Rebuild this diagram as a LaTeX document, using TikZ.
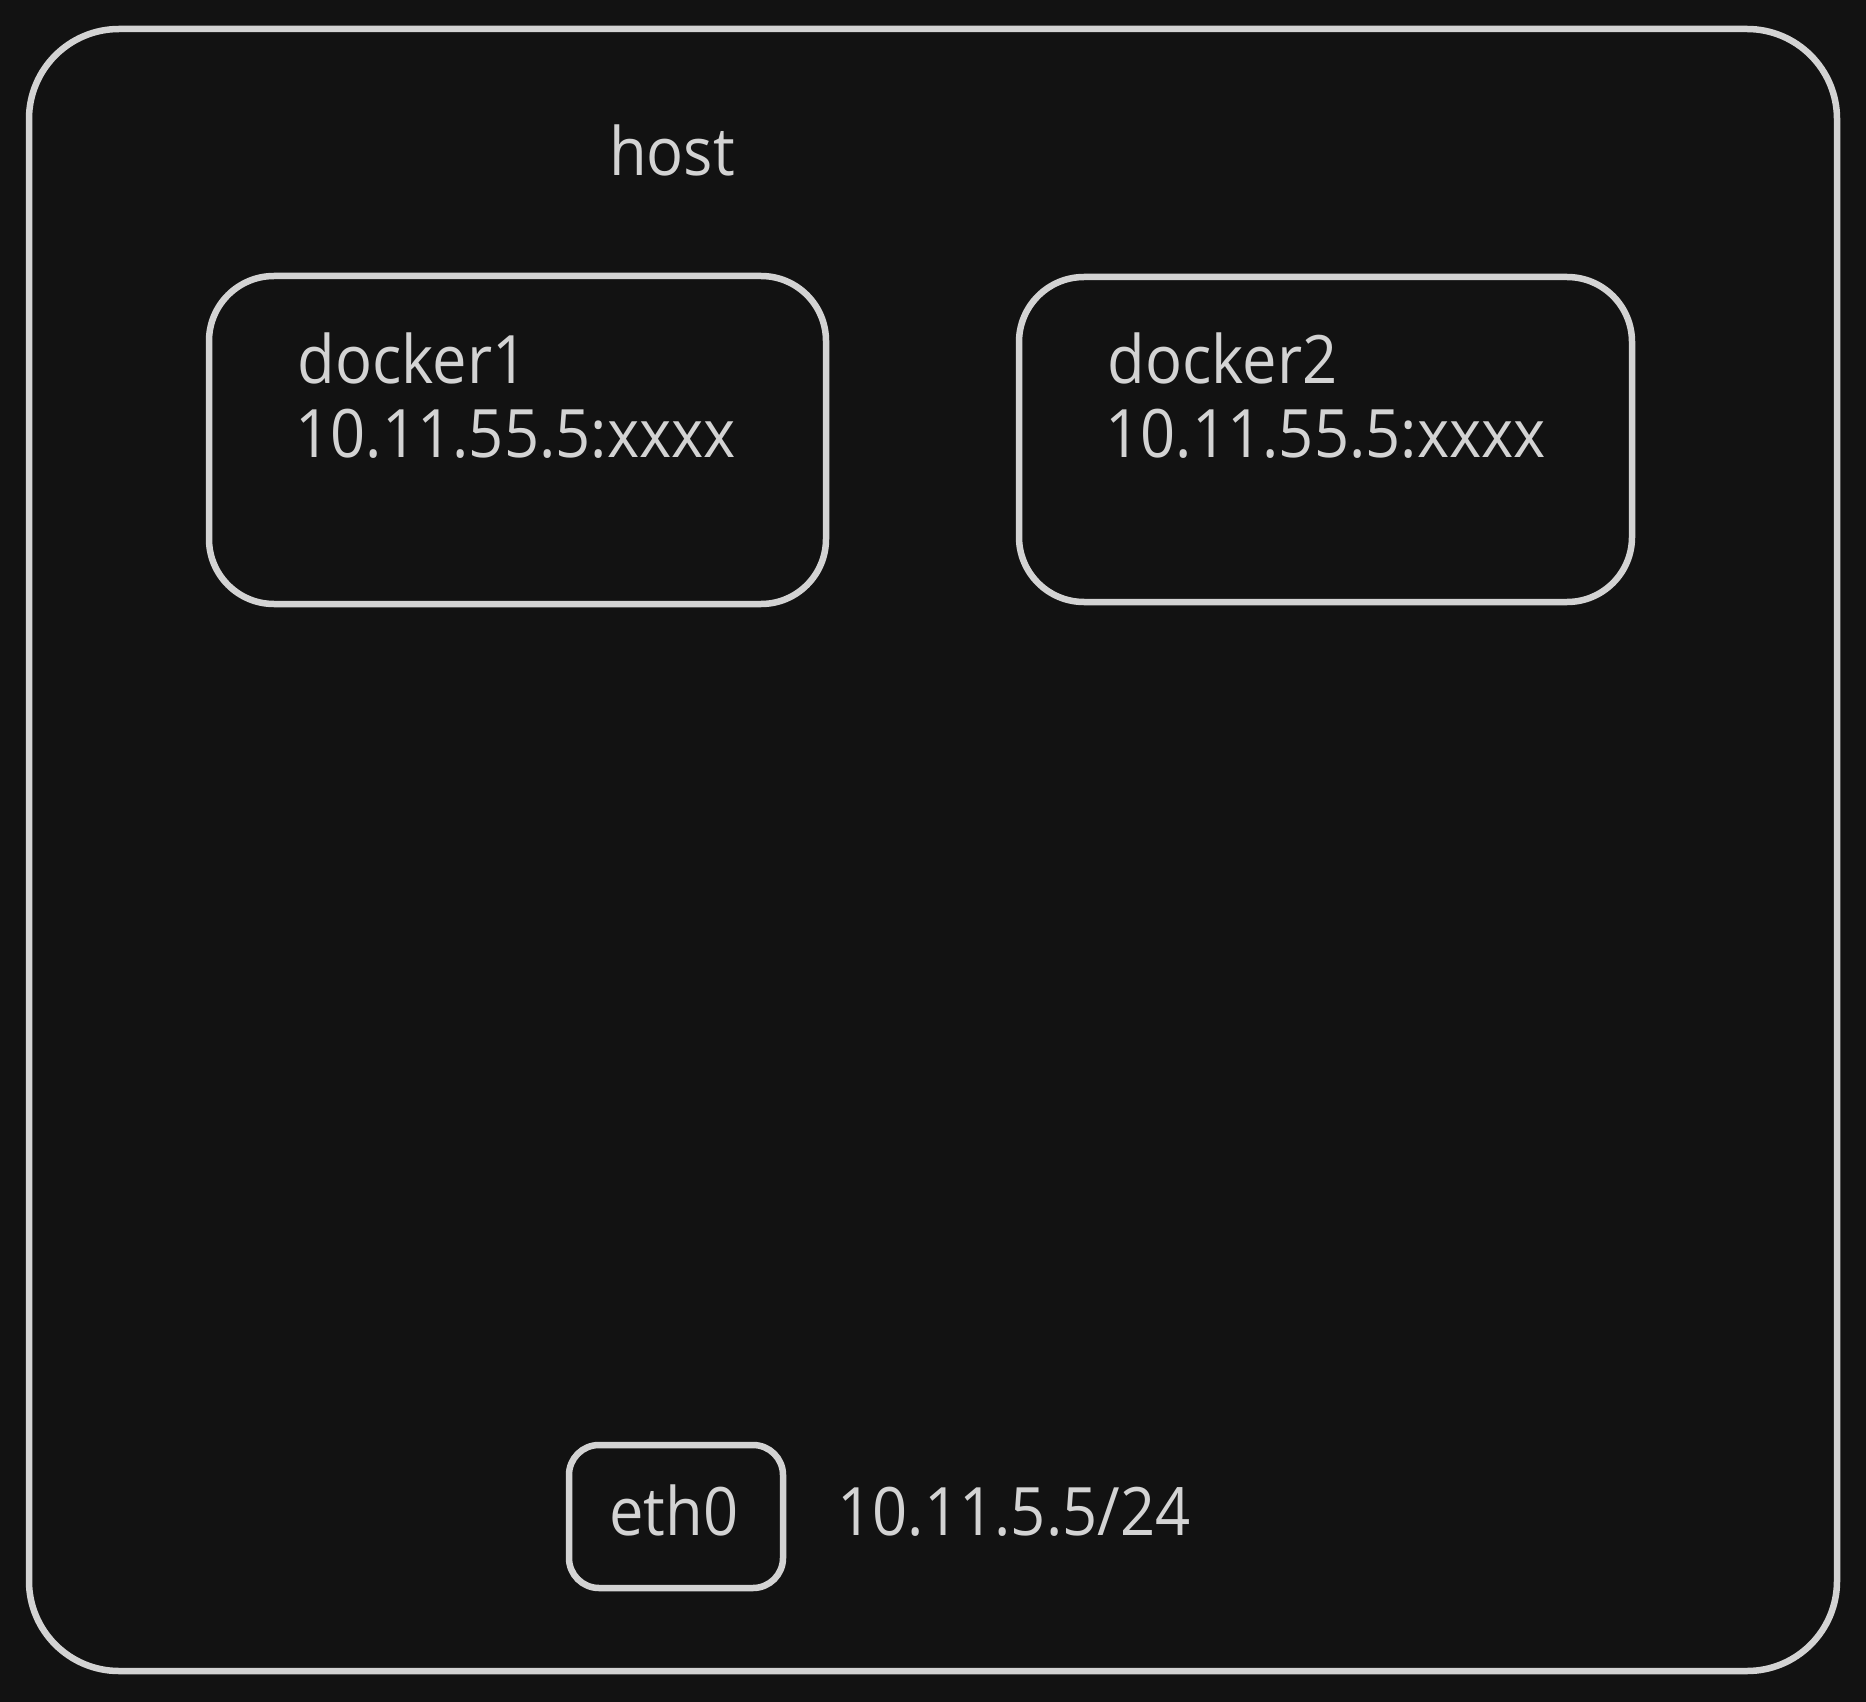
\documentclass[tikz,border=0pt]{standalone}
\usepackage{fontspec}
\setmainfont[FakeStretch=0.92]{Open Sans}
\definecolor{canvas}{HTML}{121212}
\definecolor{chalk}{HTML}{D3D3D3}
\tikzset{
  sketch/.style={draw=chalk, line width=0.65mm, rounded corners=#1},
  hand/.style={text=chalk, inner sep=0pt, font=\fontsize{19}{22}\selectfont},
}
\begin{document}
\begin{tikzpicture}[x=0.1mm,y=-0.1mm]
\fill[canvas] (0,0) rectangle (1866,1702);
\useasboundingbox (0,0) rectangle (1866,1702);

% host
\draw[sketch=9mm] (29,29) rectangle (1837,1671);
\node[hand,anchor=base] (host) at (672,176) {host};

% containers
\draw[sketch=6.5mm] (209,276) rectangle (826,604);
\node[hand,anchor=base west] (d1name) at (297,383) {docker1};
\node[hand,anchor=base west] (d1addr) at (295,458) {10.11.55.5:xxxx};

\draw[sketch=6.5mm] (1019,277) rectangle (1632,602);
\node[hand,anchor=base west] (d2name) at (1107,383) {docker2};
\node[hand,anchor=base west] (d2addr) at (1105,458) {10.11.55.5:xxxx};

% nic
\draw[sketch=3mm] (569,1445) rectangle (783,1588);
\node[hand,anchor=base] (eth) at (674,1535) {eth0};
\node[hand,anchor=base west] (ethaddr) at (837,1535) {10.11.5.5/24};
\end{tikzpicture}
\end{document}
